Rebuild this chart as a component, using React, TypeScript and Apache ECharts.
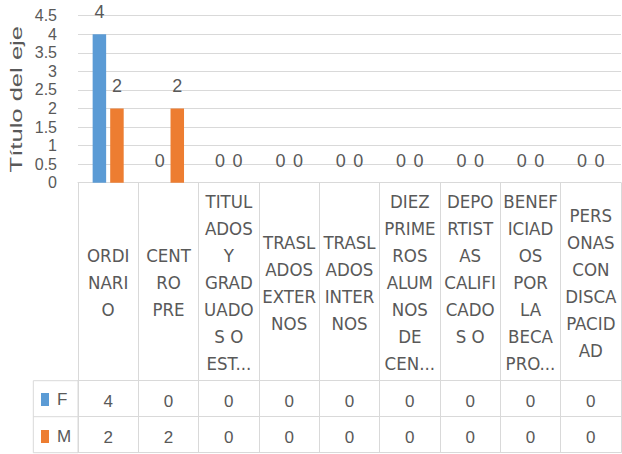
import React, { useEffect, useRef } from "react";
import * as echarts from "echarts";

const categories = [
  "ORDINARIO",
  "CENTRO PRE",
  "TITULADOS Y GRADUADOS O EST...",
  "TRASLADOS EXTERNOS",
  "TRASLADOS INTERNOS",
  "DIEZ PRIMEROS ALUMNOS DE CEN...",
  "DEPORTISTAS CALIFICADOS O",
  "BENEFICIADOS POR LA BECA PRO...",
  "PERSONAS CON DISCAPACIDAD",
];

const categoryTickLabels = [
  "ORDI\nNARI\nO",
  "CENT\nRO\nPRE",
  "TITUL\nADOS\nY\nGRAD\nUADO\nS O\nEST...",
  "TRASL\nADOS\nEXTER\nNOS",
  "TRASL\nADOS\nINTER\nNOS",
  "DIEZ\nPRIME\nROS\nALUM\nNOS\nDE\nCEN...",
  "DEPO\nRTIST\nAS\nCALIFI\nCADO\nS O\n ",
  "BENEF\nICIAD\nOS\nPOR\nLA\nBECA\nPRO...",
  "PERS\nONAS\nCON\nDISCA\nPACID\nAD",
];

const seriesNames = ["F", "M"];
const seriesF = [4, 0, 0, 0, 0, 0, 0, 0, 0];
const seriesM = [2, 2, 0, 0, 0, 0, 0, 0, 0];

const yMin = 0;
const yMax = 4.5;
const yInterval = 0.5;
const axisTitle = "Título del eje";

const TEXT = "#595959";
const LINE = "#d9d9d9";
const BLUE = "#5b9bd5";
const ORANGE = "#ed7d31";
const FONT = "'Liberation Sans', Arial, sans-serif";
const NARROW = "'Liberation Sans Narrow', 'DejaVu Sans Condensed', sans-serif";

export default function App() {
  const ref = useRef<HTMLDivElement>(null);

  useEffect(() => {
    if (!ref.current) return;
    const chart = echarts.init(ref.current, null, { renderer: "svg", width: 622, height: 454 });

    const gLeft = 78;
    const gTop = 15.7;
    const gWidth = 543;
    const gHeight = 167;
    const labelRowH = 198;
    const rowH = 36;
    const tableLeft = 33.3;
    const baseY = gTop + gHeight;

    const lineStyle = { color: LINE, width: 1 };

    chart.setOption({
      animation: false,
      grid: { left: gLeft, top: gTop, width: gWidth, height: gHeight, containLabel: false },
      legend: {
        data: seriesNames,
        orient: "vertical",
        left: 41,
        top: 391,
        padding: 0,
        icon: "rect",
        itemWidth: 8,
        itemHeight: 13,
        itemGap: 20,
        textStyle: { fontSize: 17, color: TEXT, fontFamily: FONT, padding: [0, 0, 0, 3] },
        selectedMode: false,
      },
      xAxis: [
        {
          type: "category",
          data: categories,
          axisLine: { show: true, lineStyle },
          axisTick: { show: true, length: labelRowH + 2 * rowH, lineStyle },
          splitLine: { show: false },
          axisLabel: {
            interval: 0,
            formatter: (_v: string, i: number) => categoryTickLabels[i],
            fontFamily: NARROW,
            fontSize: 18.5,
            lineHeight: 27,
            color: TEXT,
            verticalAlign: "middle",
            align: "center",
            margin: labelRowH / 2 + 1,
          },
        },
        {
          type: "category",
          data: categories,
          position: "bottom",
          offset: labelRowH,
          axisLine: { show: true, lineStyle },
          axisTick: { show: false },
          axisLabel: {
            interval: 0,
            formatter: (_v: string, i: number) => String(seriesF[i]),
            fontFamily: FONT,
            fontSize: 17,
            color: TEXT,
            verticalAlign: "middle",
            margin: rowH / 2 + 3,
          },
        },
        {
          type: "category",
          data: categories,
          position: "bottom",
          offset: labelRowH + rowH,
          axisLine: { show: true, lineStyle },
          axisTick: { show: false },
          axisLabel: {
            interval: 0,
            formatter: (_v: string, i: number) => String(seriesM[i]),
            fontFamily: FONT,
            fontSize: 17,
            color: TEXT,
            verticalAlign: "middle",
            margin: rowH / 2 + 3,
          },
        },
        {
          type: "category",
          data: categories,
          position: "bottom",
          offset: labelRowH + 2 * rowH,
          axisLine: { show: true, lineStyle },
          axisTick: { show: false },
          axisLabel: { show: false },
        },
      ],
      yAxis: {
        type: "value",
        min: yMin,
        max: yMax,
        interval: yInterval,
        axisLine: { show: false },
        axisTick: { show: false },
        splitLine: { show: true, lineStyle },
        axisLabel: { fontSize: 16, color: TEXT, fontFamily: FONT, margin: 21 },
      },
      series: [
        {
          name: seriesNames[0],
          type: "bar",
          data: seriesF,
          barWidth: 13.5,
          barGap: "30%",
          itemStyle: { color: BLUE },
          label: { show: true, position: "top", distance: 13, fontSize: 18, color: TEXT, fontFamily: FONT },
        },
        {
          name: seriesNames[1],
          type: "bar",
          data: seriesM,
          barWidth: 13.5,
          barGap: "30%",
          itemStyle: { color: ORANGE },
          label: { show: true, position: "top", distance: 13, fontSize: 18, color: TEXT, fontFamily: FONT },
        },
      ],
      graphic: [
        {
          type: "text",
          x: 16.5,
          y: gTop + gHeight / 2,
          rotation: Math.PI / 2,
          scaleX: 1.6,
          scaleY: 1,
          style: {
            text: axisTitle,
            fontSize: 16,
            fontFamily: FONT,
            fill: TEXT,
            align: "center",
            verticalAlign: "middle",
          },
        },
        {
          type: "rect",
          shape: { x: tableLeft, y: baseY + labelRowH, width: gLeft - tableLeft, height: 2 * rowH },
          style: { fill: "none", stroke: LINE, lineWidth: 1 },
        },
        {
          type: "line",
          shape: { x1: tableLeft, y1: baseY + labelRowH + rowH, x2: gLeft, y2: baseY + labelRowH + rowH },
          style: { stroke: LINE, lineWidth: 1 },
        },
      ],
    });

    return () => chart.dispose();
  }, []);

  return (
    <div
      ref={ref}
      style={{ position: "fixed", left: 0, top: 0, width: 622, height: 454, background: "#fff" }}
    />
  );
}
